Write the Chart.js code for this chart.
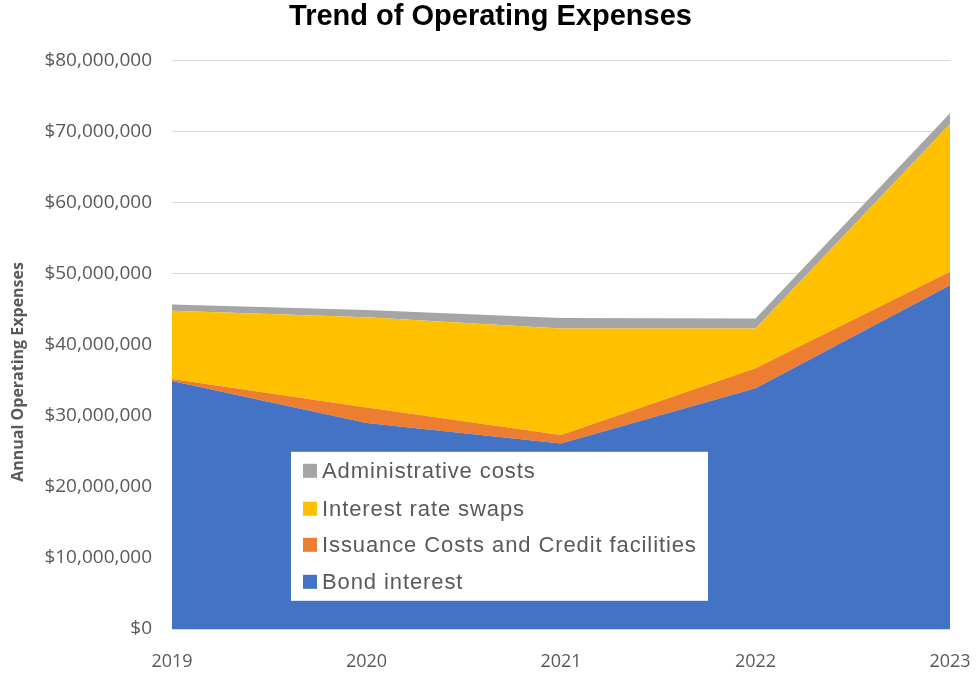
<!DOCTYPE html>
<html>
<head>
<meta charset="utf-8">
<script src="https://cdn.jsdelivr.net/npm/chart.js@4.4.1/dist/chart.umd.min.js"></script>
<style>
  html, body { margin: 0; padding: 0; background: #ffffff; }
  #wrap { width: 979px; height: 673px; position: relative; }
</style>
</head>
<body>
<div id="wrap"><canvas id="chart" width="979" height="673"></canvas></div>
<script>
// Fiscal years on the horizontal axis
const years = ['2019', '2020', '2021', '2022', '2023'];

// Expense components (USD), stacked bottom to top
const bondInterest      = [34900000, 29000000, 26100000, 33900000, 48400000];
const issuanceCredit    = [300000,   2200000,  1200000,  2800000,  1900000];
const interestRateSwaps = [9600000,  12700000, 15000000, 5600000,  20800000];
const adminCosts        = [900000,   1000000,  1500000,  1400000,  1500000];

const seriesNames  = ['Bond interest', 'Issuance Costs and Credit facilities', 'Interest rate swaps', 'Administrative costs'];
const seriesColors = ['#4472C4', '#ED7D31', '#FFC000', '#A5A5A5'];
const yAxisTitle   = 'Annual Operating Expenses';

// Y-axis ticks
const yMax  = 80000000;
const yStep = 10000000;

const seriesData = [bondInterest, issuanceCredit, interestRateSwaps, adminCosts];

const datasets = seriesData.map((vals, i) => ({
  label: seriesNames[i],
  data: vals,
  backgroundColor: seriesColors[i],
  borderColor: seriesColors[i],
  borderWidth: 0,
  pointRadius: 0,
  pointHoverRadius: 0,
  tension: 0,
  fill: i === 0 ? 'origin' : '-1'
}));

// Boxed legend drawn inside the plot area, top series listed first
const insideLegend = {
  id: 'insideLegend',
  afterDatasetsDraw(chart) {
    const ctx = chart.ctx;
    const area = chart.chartArea;
    const bx = area.left + 119;
    const by = area.top + 391;
    const bw = 417;
    const bh = 149;
    ctx.save();
    ctx.fillStyle = '#ffffff';
    ctx.fillRect(bx, by, bw, bh);
    ctx.font = '22px "Liberation Sans", Arial, sans-serif';
    if ('letterSpacing' in ctx) ctx.letterSpacing = '0.9px';
    ctx.textBaseline = 'middle';
    ctx.textAlign = 'left';
    const order = [3, 2, 1, 0];
    const rowY = [19, 57, 93, 130];
    order.forEach((di, r) => {
      const cy = by + rowY[r];
      ctx.fillStyle = seriesColors[di];
      ctx.fillRect(bx + 12, cy - 7, 14, 14);
      ctx.fillStyle = '#595959';
      ctx.fillText(seriesNames[di], bx + 31, cy + 1);
    });
    ctx.restore();
  }
};

// Rotated value-axis title, set a little below the plot's middle
const axisTitle = {
  id: 'axisTitle',
  afterDraw(chart) {
    const ctx = chart.ctx;
    const area = chart.chartArea;
    ctx.save();
    ctx.translate(18, (area.top + area.bottom) / 2 + 27);
    ctx.rotate(-Math.PI / 2);
    ctx.font = 'bold 16px "Open Sans", sans-serif';
    ctx.fillStyle = '#595959';
    ctx.textAlign = 'center';
    ctx.textBaseline = 'middle';
    ctx.fillText(yAxisTitle, 0, 0);
    ctx.restore();
  }
};

new Chart(document.getElementById('chart'), {
  type: 'line',
  data: { labels: years, datasets },
  plugins: [insideLegend, axisTitle],
  options: {
    responsive: false,
    animation: false,
    events: [],
    layout: { padding: { left: 8, right: 6, top: 0, bottom: 0 } },
    plugins: {
      legend: { display: false },
      tooltip: { enabled: false },
      title: {
        display: true,
        text: 'Trend of Operating Expenses',
        color: '#000000',
        font: { family: '"Liberation Sans", Arial, sans-serif', size: 29, weight: 'bold' },
        padding: { top: 0, bottom: 26 }
      }
    },
    scales: {
      x: {
        offset: false,
        afterFit(scale) {
          scale.height = 44;
          scale.paddingRight = 29;
        },
        grid: { display: false, drawTicks: false },
        border: { display: true, color: '#d9d9d9' },
        ticks: {
          color: '#595959',
          font: { family: '"Open Sans", sans-serif', size: 18 },
          padding: 22,
          maxRotation: 0
        }
      },
      y: {
        stacked: true,
        min: 0,
        max: yMax,
        afterFit(scale) { scale.width = 164; },
        grid: { color: '#d9d9d9', drawTicks: false },
        border: { display: false },
        ticks: {
          stepSize: yStep,
          color: '#595959',
          font: { family: '"Open Sans", sans-serif', size: 19 },
          padding: 20,
          callback: v => '$' + Number(v).toLocaleString('en-US')
        }
      }
    }
  }
});
</script>
</body>
</html>
